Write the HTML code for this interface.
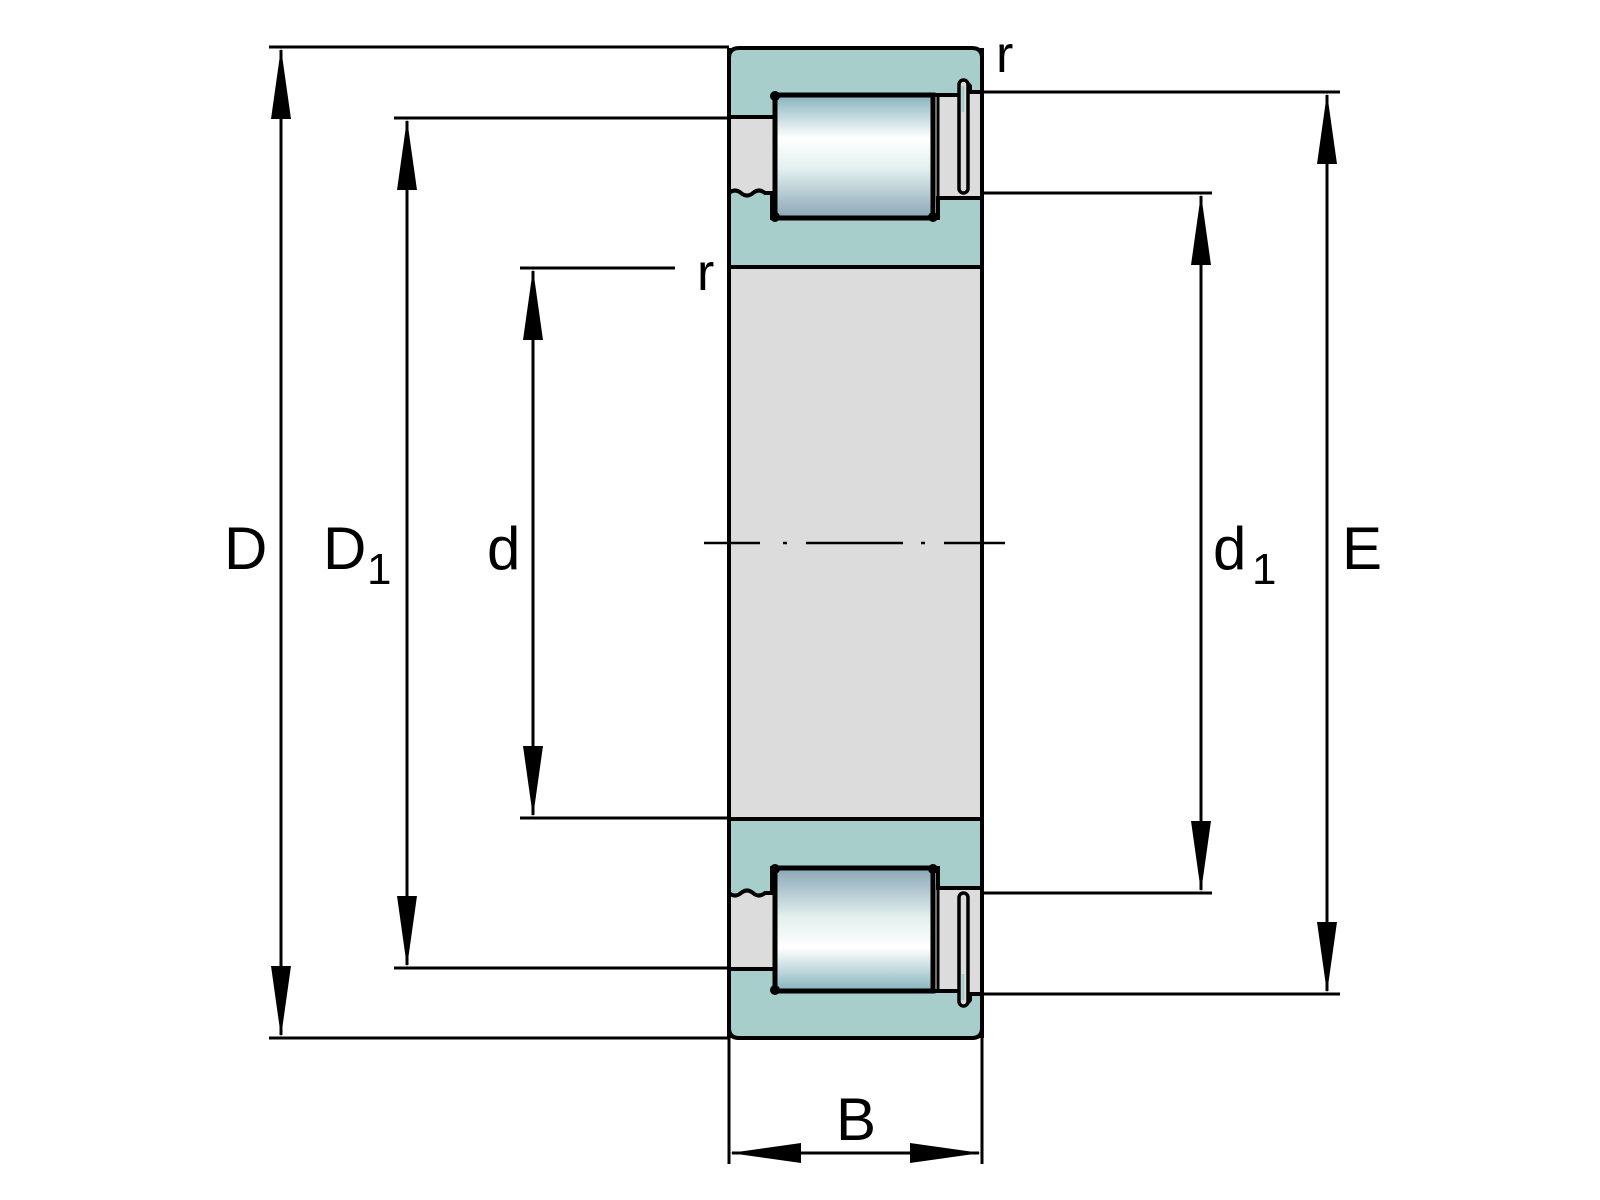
<!DOCTYPE html>
<html><head><meta charset="utf-8"><style>
html,body{margin:0;padding:0;background:#fff;width:1600px;height:1200px;overflow:hidden}
text{font-family:"Liberation Sans",Arial,sans-serif;fill:#000}
</style></head><body>
<svg width="1600" height="1200" viewBox="0 0 1600 1200" xmlns="http://www.w3.org/2000/svg">
<defs>
<linearGradient id="rg" x1="0" y1="0" x2="0" y2="1">
<stop offset="0" stop-color="#86b3bd"/>
<stop offset="0.35" stop-color="#ffffff"/>
<stop offset="0.6" stop-color="#e2f0ee"/>
<stop offset="1" stop-color="#8aa6b6"/>
</linearGradient>
<g id="half">
 <rect x="729" y="92" width="253" height="110" fill="#dcdcdc"/>
 <path d="M739,48 H972 Q982,48 982,58 V92 H970 V86 Q966,80 961,86 V95 H775 V117 H729 V58 Q729,48 739,48 Z" fill="#a8cecc" stroke="#000" stroke-width="4"/>
 <path d="M729,193 Q735,188 741,193 Q747,198 753,193 Q759,188 765,193 H772 V218 H938 V198 H982 V267 H729 Z" fill="#a8cecc" stroke="#000" stroke-width="4"/>
 <rect x="775" y="95" width="158" height="123" fill="url(#rg)" stroke="#000" stroke-width="5"/>
 <circle cx="775" cy="96" r="5"/><circle cx="775" cy="217" r="5"/><circle cx="933" cy="217" r="5"/>
 <rect x="959" y="80" width="9" height="113" rx="4.5" fill="#dcdcdc" stroke="#000" stroke-width="3.5"/>
 <line x1="963" y1="86" x2="963" y2="112" stroke="#a8cecc" stroke-width="3"/>
 <line x1="938" y1="95" x2="938" y2="198" stroke="#000" stroke-width="3"/>
</g>
</defs>
<rect x="729" y="267" width="253" height="551" fill="#dcdcdc"/>
<use href="#half"/>
<use href="#half" transform="matrix(1,0,0,-1,0,1086)"/>
<line x1="729" y1="48" x2="729" y2="1038" stroke="#000" stroke-width="4"/>
<line x1="982" y1="48" x2="982" y2="1038" stroke="#000" stroke-width="4"/>
<g stroke="#000" stroke-width="2.5">
 <line x1="704" y1="543" x2="760" y2="543"/>
 <line x1="783" y1="543" x2="787" y2="543"/>
 <line x1="806" y1="543" x2="903" y2="543"/>
 <line x1="921" y1="543" x2="925" y2="543"/>
 <line x1="944" y1="543" x2="1005" y2="543"/>
</g>
<g stroke="#000" stroke-width="3" fill="none">
 <line x1="269" y1="47" x2="729" y2="47"/>
 <line x1="269" y1="1038" x2="729" y2="1038"/>
 <line x1="394" y1="118" x2="729" y2="118"/>
 <line x1="394" y1="968" x2="729" y2="968"/>
 <line x1="520" y1="268" x2="675" y2="268"/>
 <line x1="520" y1="818" x2="729" y2="818"/>
 <line x1="975" y1="92" x2="1340" y2="92"/>
 <line x1="975" y1="994" x2="1340" y2="994"/>
 <line x1="982" y1="193" x2="1212" y2="193"/>
 <line x1="982" y1="893" x2="1212" y2="893"/>
 <line x1="729" y1="1038" x2="729" y2="1164"/>
 <line x1="982" y1="1038" x2="982" y2="1164"/>
 <line x1="281" y1="50" x2="281" y2="1035"/>
 <line x1="407" y1="121" x2="407" y2="965"/>
 <line x1="533" y1="271" x2="533" y2="815"/>
 <line x1="1201" y1="196" x2="1201" y2="890"/>
 <line x1="1327" y1="95" x2="1327" y2="991"/>
 <line x1="732" y1="1153" x2="979" y2="1153"/>
</g>
<g fill="#000">
 <polygon points="281,48 271,119 291,119"/><polygon points="281,1037 271,966 291,966"/>
 <polygon points="407,119 397,190 417,190"/><polygon points="407,967 397,896 417,896"/>
 <polygon points="533,269 523,340 543,340"/><polygon points="533,817 523,746 543,746"/>
 <polygon points="1201,194 1191,265 1211,265"/><polygon points="1201,892 1191,821 1211,821"/>
 <polygon points="1327,93 1317,164 1337,164"/><polygon points="1327,993 1317,922 1337,922"/>
 <polygon points="730,1153 801,1143 801,1163"/><polygon points="981,1153 910,1143 910,1163"/>
</g>
<g font-size="60">
 <text x="224" y="569">D</text>
 <text x="323" y="569">D</text><text x="367" y="584" font-size="44">1</text>
 <text x="487" y="569">d</text>
 <text x="1213" y="569">d</text><text x="1252" y="584" font-size="44">1</text>
 <text x="1342" y="569">E</text>
 <text x="836" y="1140">B</text>
 <text x="996" y="72" font-size="52">r</text>
 <text x="697" y="290" font-size="52">r</text>
</g>
</svg>
</body></html>
